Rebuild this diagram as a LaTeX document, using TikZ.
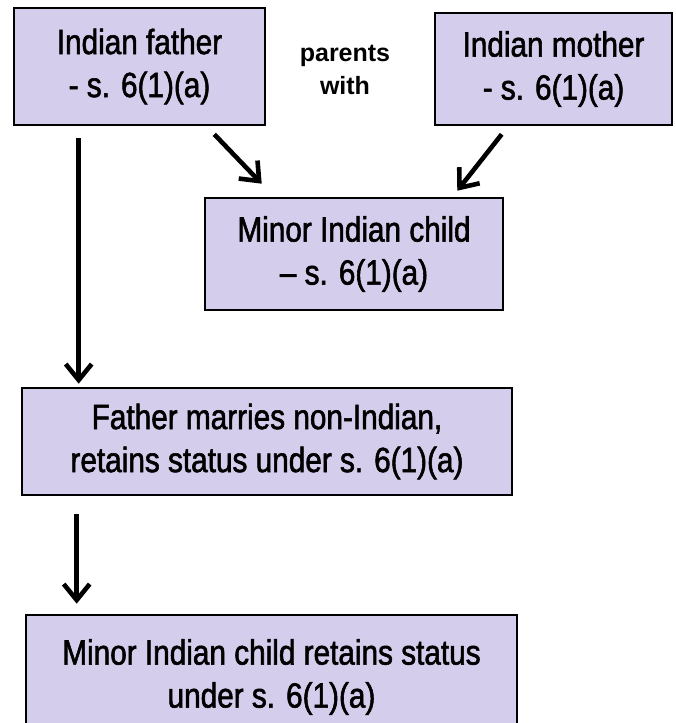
\documentclass[tikz,border=0pt]{standalone}
\usepackage{fontspec}
\setmainfont{Liberation Sans}[FakeStretch=0.85, FakeBold=1.6]
\newfontfamily\labelfont{Liberation Sans}
\usetikzlibrary{arrows.meta}
\definecolor{boxfill}{RGB}{213,205,236}
\tikzset{
  statusbox/.style={draw=black, line width=2.6pt, fill=boxfill, align=center,
    inner sep=0pt, font=\fontsize{35}{43}\selectfont},
  flow/.style={line width=4.6pt, -{Straight Barb[length=16pt,width=26pt,line width=4.6pt]}},
}
\begin{document}
\begin{tikzpicture}[x=1pt,y=-1pt]
\useasboundingbox (0,0) rectangle (675,723);
\begin{scope}
\clip (0,0) rectangle (675,723);

\node[statusbox, minimum width=251pt, minimum height=117pt] (father) at (139.5,66.5)
  {Indian father\\- s. 6(1)(a)};
\node[statusbox, minimum width=237pt, minimum height=112pt] (mother) at (553.5,69)
  {Indian mother\\- s. 6(1)(a)};
\node[align=center, font=\labelfont\bfseries\fontsize{25}{33}\selectfont] (parents) at (345,70)
  {parents\\with};
\node[statusbox, minimum width=298pt, minimum height=112pt] (child) at (354,254)
  {Minor Indian child\\– s. 6(1)(a)};
\node[statusbox, minimum width=490pt, minimum height=107pt] (marries) at (267,441.5)
  {Father marries non-Indian,\\retains status under s. 6(1)(a)};
\node[statusbox, minimum width=491pt, minimum height=124pt] (retains) at (271.5,677)
  {Minor Indian child retains status\\under s. 6(1)(a)};

\draw[flow] ([shift={(66,12)}]father.south west) -- ([shift={(58,-3)}]marries.north west);
\draw[flow] ([shift={(-52,8)}]father.south east) -- ([shift={(58,-13)}]child.north west);
\draw[flow] ([shift={(68,8)}]mother.south west) -- ([shift={(-47,-6)}]child.north east);
\draw[flow] ([shift={(56,18)}]marries.south west) -- ([shift={(52,-10)}]retains.north west);
\end{scope}
\end{tikzpicture}
\end{document}
